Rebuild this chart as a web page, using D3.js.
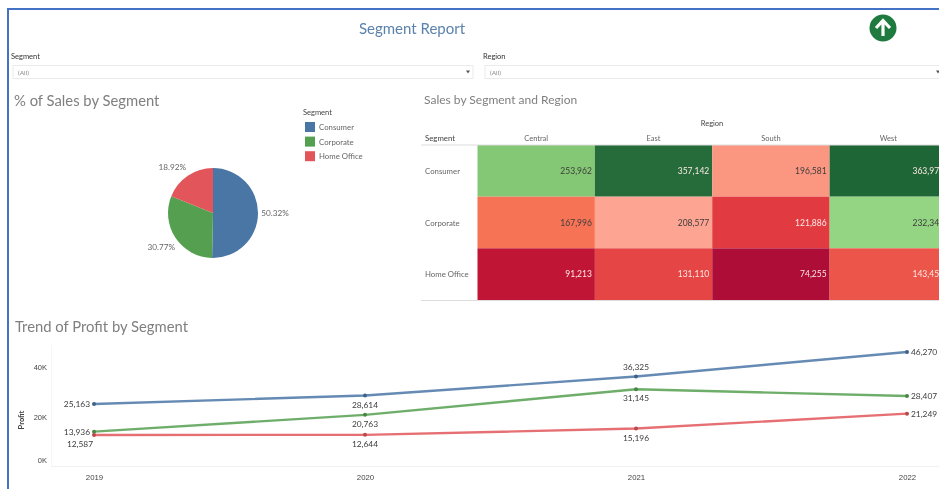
<!DOCTYPE html>
<html>
<head>
<meta charset="utf-8">
<script src="https://d3js.org/d3.v7.min.js"></script>
<style>
  html, body { margin: 0; padding: 0; background: #fff; overflow: hidden; }
  svg { display: block; font-family: Lato, "Open Sans", sans-serif; filter: blur(0.5px); }
</style>
</head>
<body>
<script>
// data
var segments = ['Consumer', 'Corporate', 'Home Office'];
var regions = ['Central', 'East', 'South', 'West'];
var years = ['2019', '2020', '2021', '2022'];
var salesShare = [50.32, 30.77, 18.92];
var consumerSales = [253962, 357142, 196581, 363972];
var corporateSales = [167996, 208577, 121886, 232345];
var homeOfficeSales = [91213, 131110, 74255, 143458];
var consumerProfit = [25163, 28614, 36325, 46270];
var corporateProfit = [13936, 20763, 31145, 28407];
var homeOfficeProfit = [12587, 12644, 15196, 21249];
var profitTicks = [0, 20000, 40000];

var salesRows = [consumerSales, corporateSales, homeOfficeSales];
var profitRows = [consumerProfit, corporateProfit, homeOfficeProfit];

var width = 939, height = 489;
var svg = d3.select('body').append('svg').attr('width', width).attr('height', height);

var segColor = d3.scaleOrdinal().domain(segments).range(['#4a76a6', '#55a050', '#e2565b']);
var greyTitle = '#7f7f7f', greyText = '#666', darkText = '#444';

// outer frame, runs off the right and bottom of the shot
svg.append('rect').attr('x', 8).attr('y', 9).attr('width', 1000).attr('height', 600)
  .attr('fill', 'none').attr('stroke', '#4472c4').attr('stroke-width', 2);

svg.append('text').attr('x', 412).attr('y', 34).attr('text-anchor', 'middle')
  .attr('font-size', 15).attr('fill', '#5b82ad').text('Segment Report');

// up arrow icon
var icon = svg.append('g').attr('transform', 'translate(883,28)');
icon.append('circle').attr('r', 13.5).attr('fill', '#1f7a3f');
icon.append('path').attr('d', 'M-7,0 L0,-7.5 L7,0 M0,-7 L0,8')
  .attr('fill', 'none').attr('stroke', '#fff').attr('stroke-width', 3.2);

// filters
function filterBox(label, xLabel, xBox, w) {
  svg.append('text').attr('x', xLabel).attr('y', 59).attr('font-size', 7.5)
    .attr('fill', '#333').text(label);
  svg.append('rect').attr('x', xBox).attr('y', 65.5).attr('width', w).attr('height', 13)
    .attr('fill', '#fff').attr('stroke', '#ebebeb');
  svg.append('text').attr('x', xBox + 5).attr('y', 75).attr('font-size', 6.5)
    .attr('fill', '#888').text('(All)');
  svg.append('path').attr('transform', 'translate(' + (xBox + w - 5) + ',72)')
    .attr('d', 'M-2,-1.5 L2,-1.5 L0,1.5 Z').attr('fill', '#555');
}
filterBox('Segment', 11, 13, 460);
filterBox('Region', 483, 485, 458);

// pie
svg.append('text').attr('x', 14).attr('y', 106).attr('font-size', 14.8)
  .attr('fill', greyTitle).text('% of Sales by Segment');

var pieG = svg.append('g').attr('transform', 'translate(213,213)');
var pie = d3.pie().sort(null);
var arc = d3.arc().innerRadius(0).outerRadius(45);
var labelArc = d3.arc().innerRadius(62).outerRadius(62);
pieG.selectAll('path').data(pie(salesShare)).enter().append('path')
  .attr('d', arc).attr('fill', (d, i) => segColor(segments[i]));
var pieNudge = [[0, 0], [0, 0], [-6, 5]];
pieG.selectAll('text').data(pie(salesShare)).enter().append('text')
  .attr('transform', (d, i) => {
    var c = labelArc.centroid(d);
    return 'translate(' + (c[0] + pieNudge[i][0]) + ',' + (c[1] + pieNudge[i][1]) + ')';
  })
  .attr('text-anchor', 'middle').attr('dy', '0.35em').attr('font-size', 8.2)
  .attr('fill', greyText).text(d => d.data.toFixed(2) + '%');

// legend
svg.append('text').attr('x', 303).attr('y', 115).attr('font-size', 7.5)
  .attr('fill', darkText).text('Segment');
var legend = svg.selectAll('.legend').data(segments).enter().append('g')
  .attr('transform', (d, i) => 'translate(305,' + (122 + i * 14.6) + ')');
legend.append('rect').attr('width', 10).attr('height', 10).attr('fill', d => segColor(d));
legend.append('text').attr('x', 14).attr('y', 8).attr('font-size', 7.8)
  .attr('fill', greyText).text(d => d);

// heatmap
svg.append('text').attr('x', 424).attr('y', 104).attr('font-size', 12)
  .attr('fill', greyTitle).text('Sales by Segment and Region');

var xHeat = d3.scaleBand().domain(regions).range([477.5, 947]);
var yHeat = d3.scaleBand().domain(segments).range([145, 300]);
var heatColor = d3.scaleLinear()
  .domain([74255, 91213, 121886, 167996, 208577, 232345, 253962, 363972])
  .range(['#ad0d36', '#c11535', '#e23a41', '#f77355', '#fda492', '#94d583', '#84c775', '#1f6636']);

segments.forEach((seg, r) => {
  var row = svg.append('g');
  row.selectAll('rect').data(salesRows[r]).enter().append('rect')
    .attr('x', (d, i) => xHeat(regions[i])).attr('y', yHeat(seg))
    .attr('width', xHeat.bandwidth()).attr('height', yHeat.bandwidth())
    .attr('fill', d => heatColor(d));
  row.selectAll('text').data(salesRows[r]).enter().append('text')
    .attr('x', (d, i) => xHeat(regions[i]) + xHeat.bandwidth() - 3)
    .attr('y', yHeat(seg) + yHeat.bandwidth() / 2 + 3)
    .attr('text-anchor', 'end').attr('font-size', 8.5)
    .attr('fill', d => d3.lab(heatColor(d)).l < 62 ? '#fde8e4' : '#3c3c3c')
    .text(d => d3.format(',')(d));
  svg.append('text').attr('x', 425).attr('y', yHeat(seg) + yHeat.bandwidth() / 2 + 3)
    .attr('font-size', 7.8).attr('fill', greyText).text(seg);
});

svg.append('text').attr('x', 712).attr('y', 126).attr('text-anchor', 'middle')
  .attr('font-size', 7.5).attr('fill', darkText).text('Region');
svg.append('text').attr('x', 425).attr('y', 140.5).attr('font-size', 7.8)
  .attr('fill', darkText).text('Segment');
svg.selectAll('.colhead').data(regions).enter().append('text')
  .attr('x', d => xHeat(d) + xHeat.bandwidth() / 2).attr('y', 140.5)
  .attr('text-anchor', 'middle').attr('font-size', 7.5).attr('fill', greyText).text(d => d);
svg.append('line').attr('x1', 421).attr('x2', 939).attr('y1', 145).attr('y2', 145).attr('stroke', '#ddd');
svg.append('line').attr('x1', 421).attr('x2', 939).attr('y1', 300.5).attr('y2', 300.5).attr('stroke', '#ddd');

// trend
svg.append('text').attr('x', 15).attr('y', 332).attr('font-size', 14.8)
  .attr('fill', greyTitle).text('Trend of Profit by Segment');

var xTrend = d3.scalePoint().domain(years).range([94, 907]);
var yTrend = d3.scaleLinear().domain([0, 46270]).range([466, 352]);

var yAxis = svg.append('g').attr('transform', 'translate(51,0)')
  .call(d3.axisLeft(yTrend).tickValues(profitTicks).tickSize(0).tickPadding(4)
    .tickFormat(d => (d / 1000) + 'K'));
yAxis.select('.domain').remove();
yAxis.selectAll('text').attr('font-size', 7.5).attr('font-family', null).attr('fill', darkText);
yAxis.selectAll('.tick').filter(d => d === 0).select('text').attr('dy', '-0.45em');
svg.append('line').attr('x1', 51.5).attr('x2', 51.5).attr('y1', 345).attr('y2', 466).attr('stroke', '#f6f6f6');

var xAxis = svg.append('g').attr('transform', 'translate(0,466)')
  .call(d3.axisBottom(xTrend).tickSize(0).tickPadding(8));
xAxis.select('.domain').attr('stroke', '#f2f2f2').attr('d', 'M51,0.5H939');
xAxis.selectAll('text').attr('font-size', 7.8).attr('font-family', null).attr('fill', darkText);

svg.append('text').attr('transform', 'translate(24,420) rotate(-90)')
  .attr('text-anchor', 'middle').attr('font-size', 7.5).attr('font-weight', 700)
  .attr('fill', darkText).text('Profit');

var line = d3.line().x((d, i) => xTrend(years[i])).y(d => yTrend(d));

// where each value label sits against its point
var labelPlaces = [
  ['left', 'below', 'above', 'right'],
  ['left', 'below', 'below', 'right'],
  ['farbelow', 'below', 'below', 'right']
];
var placeOffsets = {
  left: { dx: -4, dy: 3, anchor: 'end' },
  right: { dx: 4, dy: 3, anchor: 'start' },
  above: { dx: 0, dy: -7, anchor: 'middle' },
  below: { dx: 0, dy: 12, anchor: 'middle' },
  farbelow: { dx: -14, dy: 12, anchor: 'middle' }
};

segments.forEach((seg, s) => {
  var g = svg.append('g');
  g.append('path').datum(profitRows[s]).attr('d', line).attr('fill', 'none')
    .attr('stroke', segColor(seg)).attr('stroke-width', 2.4).attr('stroke-opacity', 0.85);
  g.selectAll('circle').data(profitRows[s]).enter().append('circle')
    .attr('cx', (d, i) => xTrend(years[i])).attr('cy', d => yTrend(d)).attr('r', 2)
    .attr('fill', d3.color(segColor(seg)).darker(0.5));
  g.selectAll('text').data(profitRows[s]).enter().append('text')
    .attr('x', (d, i) => xTrend(years[i]) + placeOffsets[labelPlaces[s][i]].dx)
    .attr('y', (d, i) => yTrend(d) + placeOffsets[labelPlaces[s][i]].dy)
    .attr('text-anchor', (d, i) => placeOffsets[labelPlaces[s][i]].anchor)
    .attr('font-size', 8.4).attr('fill', '#3c3c3c')
    .text(d => d3.format(',')(d));
});
</script>
</body>
</html>
